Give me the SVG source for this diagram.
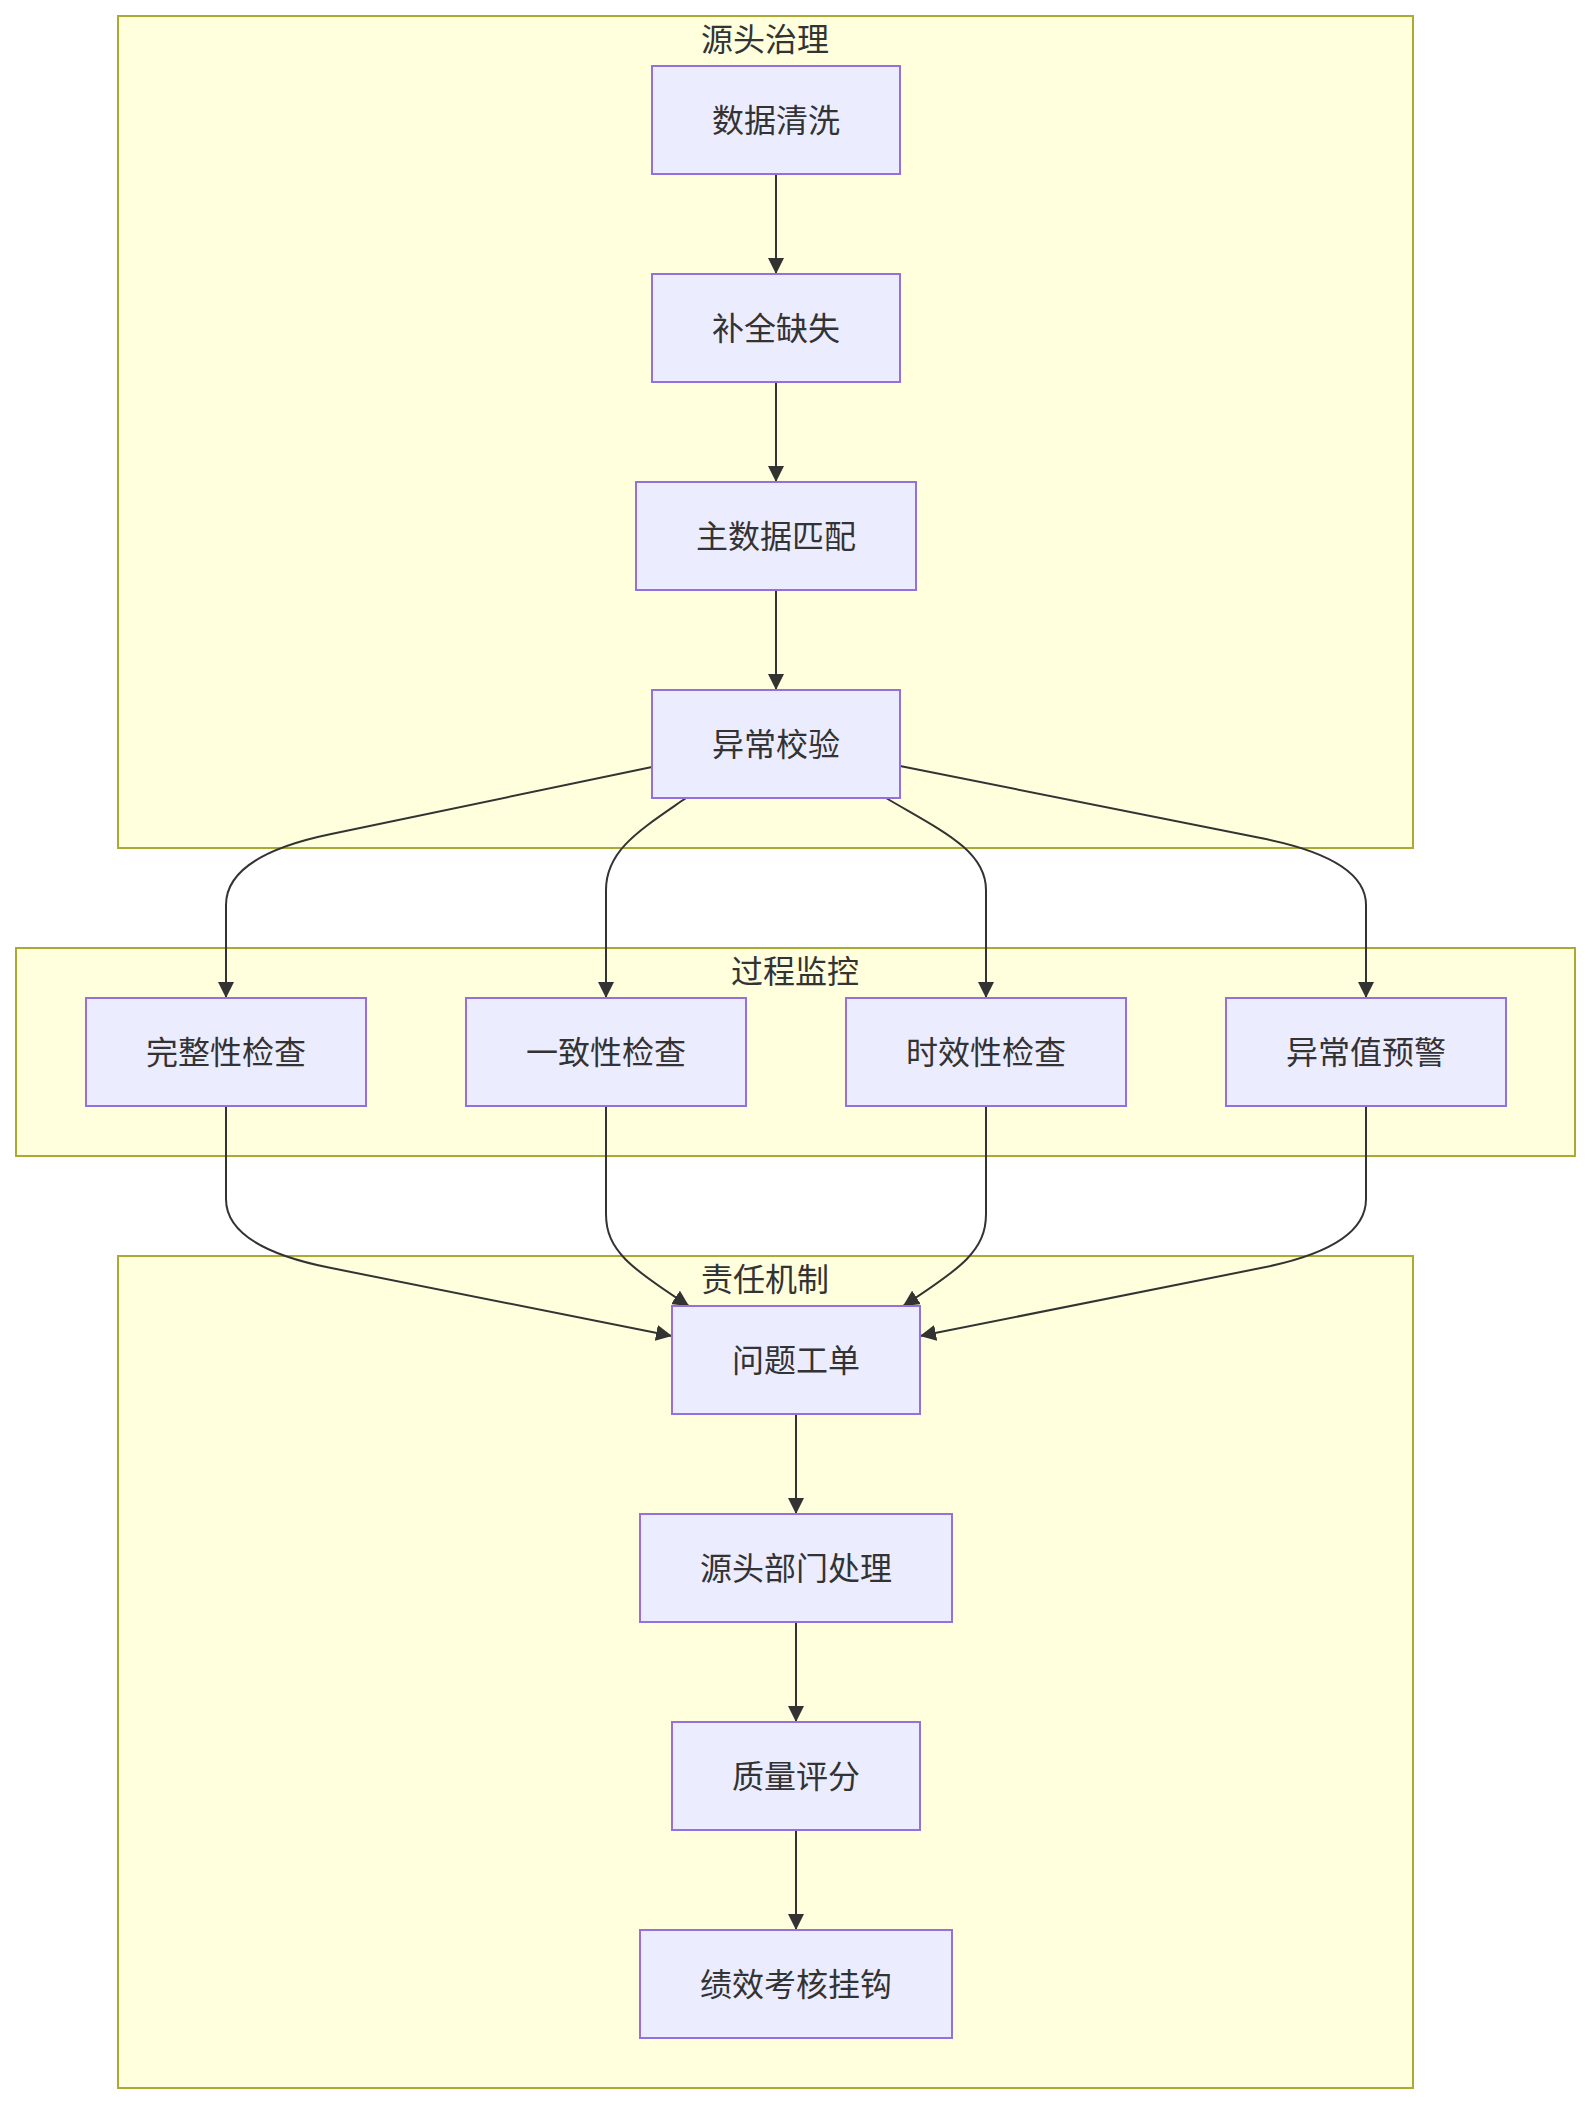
<svg xmlns="http://www.w3.org/2000/svg" width="1592" height="2104" viewBox="0 0 1592 2104">
<style>
.cluster rect{fill:#ffffde;stroke:#aaaa33;stroke-width:2}
.node rect{fill:#ececff;stroke:#9370db;stroke-width:2}
text{font-family:"Noto Sans CJK SC","Noto Sans",sans-serif;font-size:32px;fill:#333;text-anchor:middle;dominant-baseline:central}
.edge{fill:none;stroke:#333;stroke-width:2;marker-end:url(#arrow)}
</style>
<defs>
<marker id="arrow" viewBox="0 0 10 10" refX="10" refY="5" markerUnits="userSpaceOnUse" markerWidth="16" markerHeight="16" orient="auto">
<path d="M0,0 L10,5 L0,10 z" fill="#333"/>
</marker>
</defs>
<rect width="1592" height="2104" fill="#fff"/>
<g id="cluster-source" class="cluster"><rect x="118" y="16" width="1295" height="832"/><text x="765" y="37">源头治理</text></g>
<g id="cluster-process" class="cluster"><rect x="16" y="948" width="1559" height="208"/><text x="795" y="969">过程监控</text></g>
<g id="cluster-duty" class="cluster"><rect x="118" y="1256" width="1295" height="832"/><text x="765" y="1277">责任机制</text></g>
<g id="connectors">
<path class="edge" d="M776,174 L776,274"/>
<path class="edge" d="M776,382 L776,482"/>
<path class="edge" d="M776,590 L776,690"/>
<path class="edge" d="M652,767 L330,834.3 Q226,856 226,905 L226,998"/>
<path class="edge" d="M686,798 C640,830 606,850 606,890 L606,998"/>
<path class="edge" d="M886,798 C940,830 986,850 986,890 L986,998"/>
<path class="edge" d="M900,766 L1262,838.3 Q1366,859 1366,905 L1366,998"/>
<path class="edge" d="M226,1106 L226,1199 Q226,1247 330,1267.8 L672,1336"/>
<path class="edge" d="M606,1106 L606,1214 C606,1250 630,1268 689,1306"/>
<path class="edge" d="M986,1106 L986,1214 C986,1250 962,1268 903,1306"/>
<path class="edge" d="M1366,1106 L1366,1199 Q1366,1247 1262,1267.8 L920,1336"/>
<path class="edge" d="M796,1414 L796,1514"/>
<path class="edge" d="M796,1622 L796,1722"/>
<path class="edge" d="M796,1830 L796,1930"/>
</g>
<g id="n-clean" class="node"><rect x="652" y="66" width="248" height="108"/><text x="776" y="118">数据清洗</text></g>
<g id="n-fill" class="node"><rect x="652" y="274" width="248" height="108"/><text x="776" y="326">补全缺失</text></g>
<g id="n-master" class="node"><rect x="636" y="482" width="280" height="108"/><text x="776" y="534">主数据匹配</text></g>
<g id="n-anomaly" class="node"><rect x="652" y="690" width="248" height="108"/><text x="776" y="742">异常校验</text></g>
<g id="n-complete" class="node"><rect x="86" y="998" width="280" height="108"/><text x="226" y="1050">完整性检查</text></g>
<g id="n-consistent" class="node"><rect x="466" y="998" width="280" height="108"/><text x="606" y="1050">一致性检查</text></g>
<g id="n-timely" class="node"><rect x="846" y="998" width="280" height="108"/><text x="986" y="1050">时效性检查</text></g>
<g id="n-warn" class="node"><rect x="1226" y="998" width="280" height="108"/><text x="1366" y="1050">异常值预警</text></g>
<g id="n-ticket" class="node"><rect x="672" y="1306" width="248" height="108"/><text x="796" y="1358">问题工单</text></g>
<g id="n-dept" class="node"><rect x="640" y="1514" width="312" height="108"/><text x="796" y="1566">源头部门处理</text></g>
<g id="n-score" class="node"><rect x="672" y="1722" width="248" height="108"/><text x="796" y="1774">质量评分</text></g>
<g id="n-kpi" class="node"><rect x="640" y="1930" width="312" height="108"/><text x="796" y="1982">绩效考核挂钩</text></g>
</svg>
